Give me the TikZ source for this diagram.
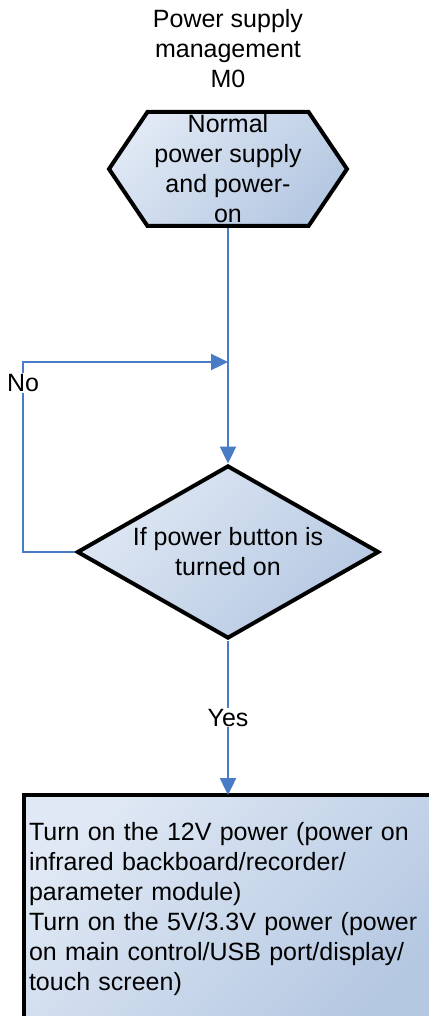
\documentclass[tikz,border=0pt]{standalone}
\usepackage{fontspec}
\setmainfont{Liberation Sans}
\usetikzlibrary{shapes.geometric,shapes.symbols,arrows.meta}
\definecolor{fillA}{HTML}{DFE8F4}
\definecolor{fillB}{HTML}{B5C8E2}
\definecolor{lineblue}{HTML}{4A7BC6}
\tikzset{
  txt/.style={font=\fontsize{25}{30}\selectfont, align=center},
  shapebox/.style={draw=black, line width=4pt, top color=fillA, bottom color=fillB, shading angle=45, inner sep=0pt},
  conn/.style={draw=lineblue, line width=2.4pt, -{Triangle[width=16pt,length=17pt]}},
  lbl/.style={fill=white, inner sep=1pt, font=\fontsize{25}{30}\selectfont}
}
\begin{document}
\begin{tikzpicture}[x=1pt,y=-1pt]
\useasboundingbox (0,0) rectangle (428,1016);
\node[txt] (title) at (228,49) {Power supply\\management\\M0};
\node[shapebox, signal, signal to=east and west, signal pointer angle=112,
  minimum width=238pt, minimum height=114pt] (hex) at (228,169) {};
\node[txt] (hextext) at (228,169) {Normal\\power supply\\and power-\\on};
\node[shapebox, diamond, aspect=1.746, minimum width=302pt, minimum height=173pt] (dia) at (228,552) {};
\node[txt] (diatext) at (228,552) {If power button is\\turned on};
\node[shapebox, rectangle, anchor=north west, outer sep=0pt, minimum width=420pt, minimum height=228pt,
  text width=410pt, inner xsep=5pt, align=left, font=\fontsize{25}{30}\selectfont] (box) at (24,795)
  {Turn on the 12V power (power on\\infrared backboard/recorder/\\parameter module)\\Turn on the 5V/3.3V power (power\\on main control/USB port/display/\\touch screen)};
\coordinate (join) at (228,362);
\draw[conn] (hex.south) -- (dia.north);
\draw[conn] (dia.west) -- ++(-52,0) |- node[lbl, pos=0.445]{No} (join);
\draw[conn] (dia.south) -- node[lbl]{Yes} (dia.south |- box.north);
\end{tikzpicture}
\end{document}
